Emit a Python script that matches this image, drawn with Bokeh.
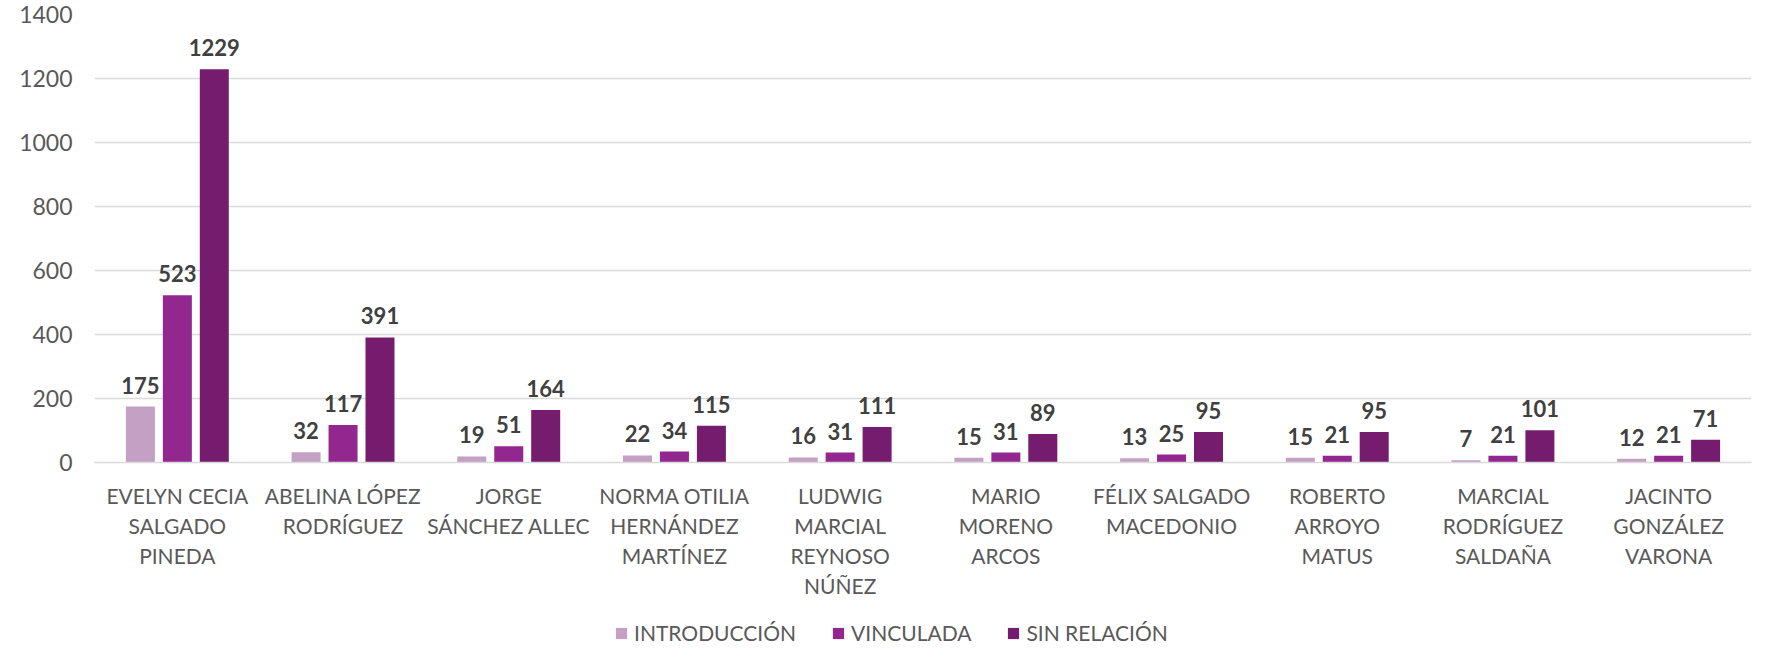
from bokeh.plotting import figure
from bokeh.layouts import column
from bokeh.models import ColumnDataSource, FactorRange, Range1d, Legend, LegendItem, FixedTicker
from bokeh.transform import dodge
from bokeh.core.properties import value
from bokeh.embed import file_html
from bokeh.resources import INLINE

categories = [
    "EVELYN CECIA\nSALGADO\nPINEDA",
    "ABELINA LÓPEZ\nRODRÍGUEZ",
    "JORGE\nSÁNCHEZ ALLEC",
    "NORMA OTILIA\nHERNÁNDEZ\nMARTÍNEZ",
    "LUDWIG\nMARCIAL\nREYNOSO\nNÚÑEZ",
    "MARIO\nMORENO\nARCOS",
    "FÉLIX SALGADO\nMACEDONIO",
    "ROBERTO\nARROYO\nMATUS",
    "MARCIAL\nRODRÍGUEZ\nSALDAÑA",
    "JACINTO\nGONZÁLEZ\nVARONA",
]
introduccion = [175, 32, 19, 22, 16, 15, 13, 15, 7, 12]
vinculada = [523, 117, 51, 34, 31, 31, 25, 21, 21, 21]
sin_relacion = [1229, 391, 164, 115, 111, 89, 95, 95, 101, 71]
series_names = ["INTRODUCCIÓN", "VINCULADA", "SIN RELACIÓN"]
y_ticks = [0, 200, 400, 600, 800, 1000, 1200, 1400]

colors = ["#C3A0C4", "#92278F", "#761C6F"]
FONT = "Lato"

src = ColumnDataSource(dict(
    cat=categories,
    intro=introduccion, vinc=vinculada, sin=sin_relacion,
    intro_t=[str(v) for v in introduccion],
    vinc_t=[str(v) for v in vinculada],
    sin_t=[str(v) for v in sin_relacion],
))

p = figure(width=1755, height=600, output_backend="svg", toolbar_location=None,
           x_range=FactorRange(factors=categories, range_padding=0),
           y_range=Range1d(0, 1400),
           min_border_left=94, min_border_right=4, min_border_top=14, min_border_bottom=138)

offsets = [-0.223, 0.0, 0.223]
fields = ["intro", "vinc", "sin"]
for off, f, c in zip(offsets, fields, colors):
    p.vbar(x=dodge("cat", off, range=p.x_range), top=f, width=0.175, source=src,
           fill_color=c, line_color=None)
    p.text(x=dodge("cat", off, range=p.x_range), y=f, text=f + "_t", source=src,
           text_align="center", text_baseline="bottom", y_offset=-13,
           text_font=value(FONT), text_font_style="bold", text_font_size="22px",
           text_color="#404040")

p.yaxis.ticker = FixedTicker(ticks=y_ticks)
p.yaxis.axis_line_color = None
p.yaxis.major_tick_line_color = None
p.yaxis.minor_tick_line_color = None
p.yaxis.major_label_text_font = FONT
p.yaxis.major_label_text_font_size = "23px"
p.yaxis.major_label_text_color = "#595959"
p.yaxis.major_label_standoff = 16

p.xaxis.axis_line_color = "#D9D9D9"
p.xaxis.axis_line_width = 1.5
p.xaxis.major_tick_line_color = None
p.xaxis.minor_tick_line_color = None
p.xaxis.major_label_text_font = FONT
p.xaxis.major_label_text_font_size = "21px"
p.xaxis.major_label_text_color = "#595959"
p.xaxis.major_label_standoff = 14
p.xaxis.major_label_text_line_height = 1.2

p.xgrid.grid_line_color = None
p.ygrid.grid_line_color = "#D9D9D9"
p.ygrid.grid_line_width = 1.5
p.outline_line_color = None

# legend strip below the chart (its frame aligns with the main chart frame)
lg = figure(width=1755, height=51, output_backend="svg", toolbar_location=None,
            x_axis_location=None, y_axis_location=None,
            x_range=Range1d(0, 1), y_range=Range1d(0, 1),
            min_border_left=0, min_border_right=0, min_border_top=0, min_border_bottom=0)
lg.outline_line_color = None
lg.grid.grid_line_color = None
items = []
for n, c in zip(series_names, colors):
    # zero-size placeholder renderer; only its legend swatch is shown
    r = lg.vbar(x=[0.5], bottom=[0.5], top=[0.5], width=0, fill_color=c, line_color=None)
    items.append(LegendItem(label=n, renderers=[r]))
legend = Legend(items=items, orientation="horizontal", location=(520, 6),
                label_text_font=FONT, label_text_font_size="21px",
                label_text_color="#595959",
                glyph_width=14, glyph_height=14, label_standoff=6, spacing=35,
                padding=0, margin=0, border_line_color=None, background_fill_alpha=0)
lg.add_layout(legend, "center")

open("out.html", "w").write(file_html(column(p, lg, spacing=0), INLINE))
